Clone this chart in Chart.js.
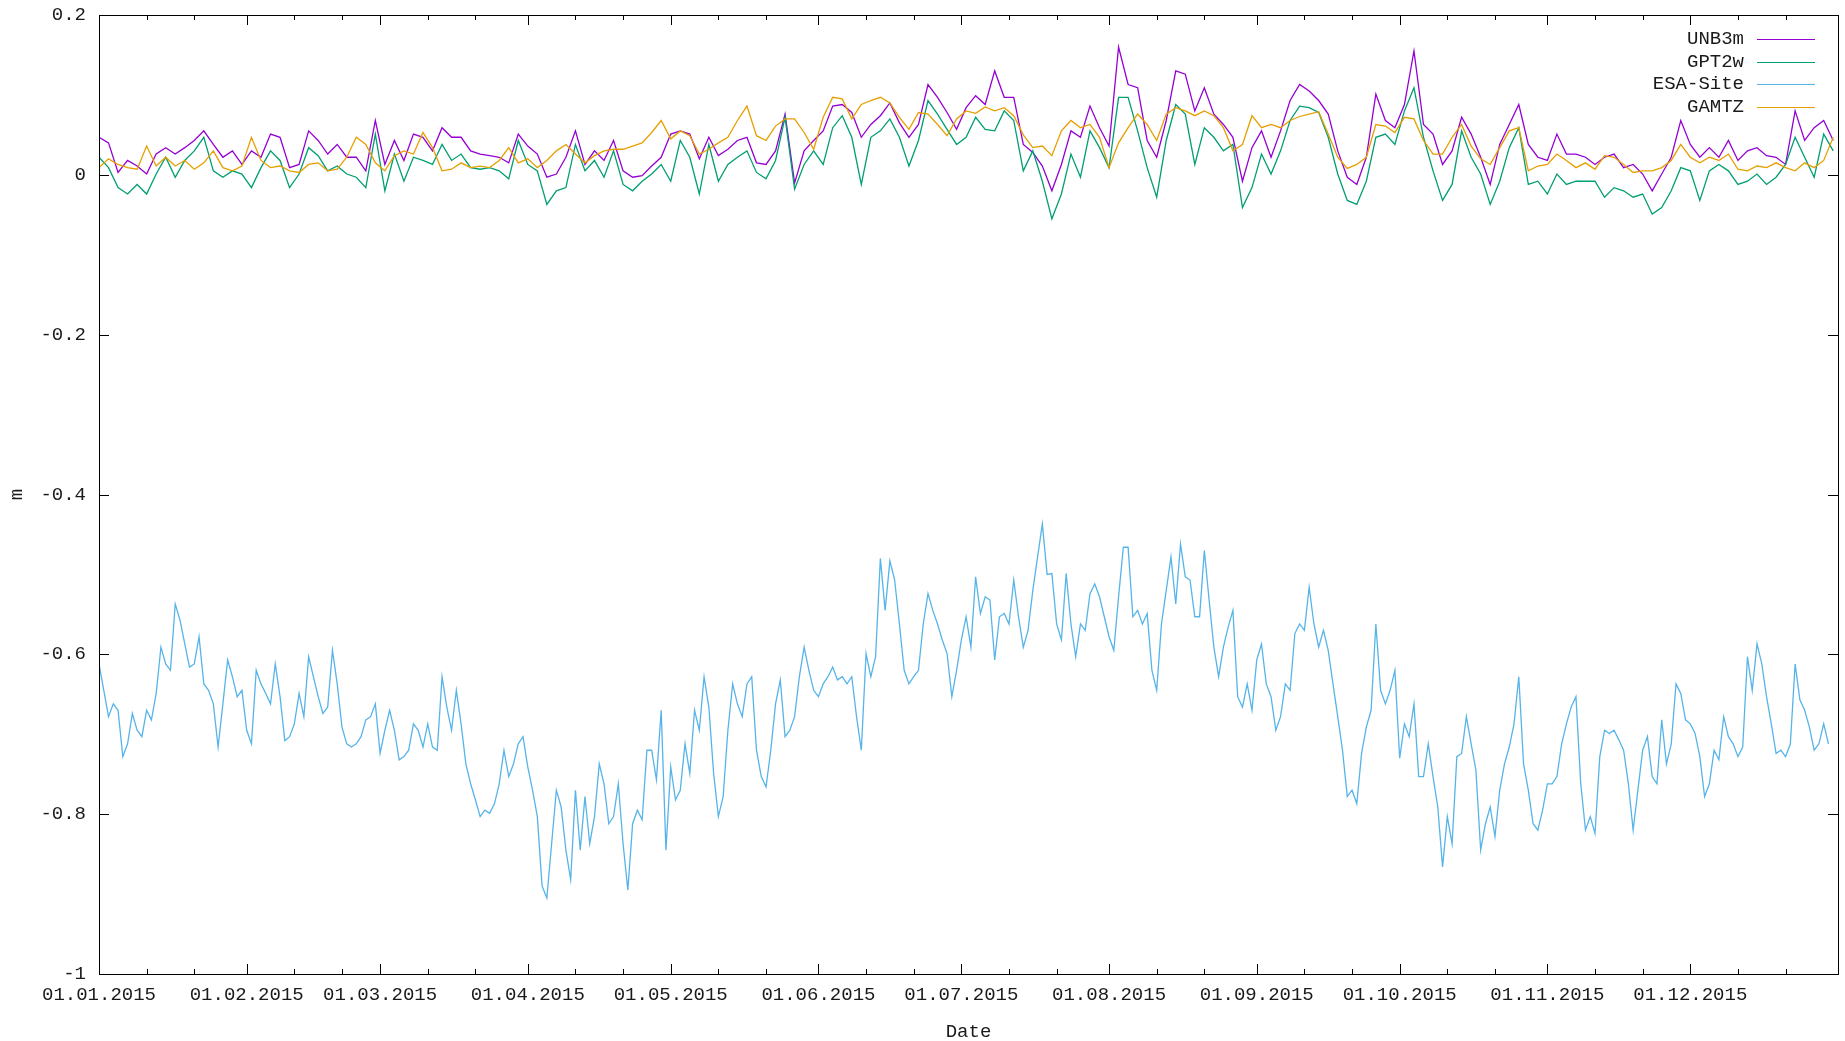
<!DOCTYPE html>
<html>
<head>
<meta charset="utf-8">
<title>UNB3m / GPT2w / ESA-Site / GAMTZ 2015</title>
<script src="https://cdn.jsdelivr.net/npm/chart.js@4.4.1/dist/chart.umd.min.js"></script>
<style>
  html, body { margin: 0; padding: 0; background: #fff; }
  #wrap { width: 1845px; height: 1041px; }
</style>
</head>
<body>
<div id="wrap"><canvas id="delayChart" width="1845" height="1041"></canvas></div>
<script>
// x axis: day of year 2015 (0 = 01.01.2015)
const monthStartDays = [0, 31, 59, 90, 120, 151, 181, 212, 243, 273, 304, 334];
const monthLabels = ['01.01.2015', '01.02.2015', '01.03.2015', '01.04.2015', '01.05.2015', '01.06.2015',
                     '01.07.2015', '01.08.2015', '01.09.2015', '01.10.2015', '01.11.2015', '01.12.2015'];
const yTickValues = [-1, -0.8, -0.6, -0.4, -0.2, 0, 0.2];

const seriesNames = ['UNB3m', 'GPT2w', 'ESA-Site', 'GAMTZ'];
const seriesColors = ['#9400d3', '#009e73', '#56b4e9', '#e69f00'];

// ESA-Site, one value per day
const esaSite = [
  -0.612,-0.645,-0.678,-0.662,-0.670,-0.728,-0.712,-0.674,-0.695,-0.703,
  -0.670,-0.682,-0.649,-0.591,-0.612,-0.620,-0.537,-0.557,-0.587,-0.616,
  -0.612,-0.578,-0.637,-0.645,-0.662,-0.716,-0.662,-0.607,-0.628,-0.653,
  -0.645,-0.695,-0.712,-0.620,-0.637,-0.649,-0.662,-0.612,-0.653,-0.708,
  -0.703,-0.687,-0.649,-0.678,-0.603,-0.628,-0.653,-0.674,-0.666,-0.595,
  -0.637,-0.691,-0.712,-0.716,-0.712,-0.703,-0.682,-0.678,-0.662,-0.724,
  -0.695,-0.670,-0.695,-0.732,-0.728,-0.720,-0.687,-0.695,-0.716,-0.687,
  -0.716,-0.720,-0.628,-0.666,-0.695,-0.645,-0.687,-0.737,-0.762,-0.782,
  -0.803,-0.795,-0.799,-0.787,-0.762,-0.720,-0.753,-0.737,-0.712,-0.703,
  -0.741,-0.770,-0.803,-0.890,-0.905,-0.837,-0.770,-0.791,-0.845,-0.882,
  -0.770,-0.845,-0.778,-0.837,-0.803,-0.737,-0.762,-0.812,-0.803,-0.762,
  -0.837,-0.895,-0.812,-0.795,-0.807,-0.720,-0.720,-0.757,-0.670,-0.845,
  -0.741,-0.782,-0.770,-0.712,-0.749,-0.670,-0.695,-0.628,-0.666,-0.749,
  -0.803,-0.778,-0.695,-0.637,-0.662,-0.678,-0.637,-0.628,-0.720,-0.753,
  -0.766,-0.720,-0.662,-0.632,-0.703,-0.695,-0.678,-0.628,-0.591,-0.620,
  -0.645,-0.653,-0.637,-0.628,-0.616,-0.632,-0.628,-0.637,-0.628,-0.678,
  -0.720,-0.599,-0.628,-0.603,-0.480,-0.545,-0.483,-0.507,-0.562,-0.620,
  -0.637,-0.628,-0.620,-0.562,-0.524,-0.545,-0.562,-0.582,-0.599,-0.653,
  -0.620,-0.582,-0.553,-0.591,-0.503,-0.549,-0.528,-0.532,-0.607,-0.553,
  -0.549,-0.562,-0.507,-0.553,-0.591,-0.570,-0.520,-0.478,-0.437,-0.500,
  -0.499,-0.562,-0.582,-0.499,-0.562,-0.603,-0.562,-0.570,-0.524,-0.512,
  -0.528,-0.553,-0.578,-0.595,-0.528,-0.466,-0.466,-0.553,-0.545,-0.562,
  -0.549,-0.620,-0.645,-0.562,-0.520,-0.478,-0.537,-0.462,-0.503,-0.507,
  -0.553,-0.553,-0.470,-0.532,-0.591,-0.628,-0.591,-0.566,-0.545,-0.653,
  -0.666,-0.637,-0.670,-0.607,-0.587,-0.637,-0.653,-0.695,-0.678,-0.637,
  -0.645,-0.574,-0.562,-0.570,-0.516,-0.562,-0.591,-0.570,-0.595,-0.637,
  -0.678,-0.720,-0.778,-0.770,-0.787,-0.724,-0.691,-0.670,-0.562,-0.645,
  -0.662,-0.645,-0.620,-0.730,-0.687,-0.703,-0.662,-0.753,-0.753,-0.712,
  -0.753,-0.791,-0.866,-0.803,-0.837,-0.728,-0.724,-0.678,-0.712,-0.745,
  -0.845,-0.812,-0.791,-0.828,-0.770,-0.737,-0.716,-0.687,-0.628,-0.737,
  -0.770,-0.812,-0.820,-0.795,-0.762,-0.762,-0.753,-0.712,-0.687,-0.666,
  -0.653,-0.762,-0.820,-0.803,-0.824,-0.728,-0.695,-0.699,-0.695,-0.707,
  -0.720,-0.762,-0.820,-0.770,-0.720,-0.703,-0.753,-0.762,-0.682,-0.737,
  -0.712,-0.637,-0.649,-0.682,-0.687,-0.699,-0.728,-0.778,-0.762,-0.720,
  -0.732,-0.678,-0.703,-0.712,-0.728,-0.716,-0.603,-0.645,-0.587,-0.612,
  -0.653,-0.687,-0.724,-0.720,-0.728,-0.712,-0.612,-0.657,-0.670,-0.691,
  -0.720,-0.712,-0.687,-0.712
];

// the three models, one value every 2 days
const unb3m = [
  0.047,0.040,0.003,0.018,0.011,0.001,0.026,0.034,0.026,0.034,
  0.043,0.055,0.038,0.022,0.030,0.013,0.030,0.022,0.051,0.047,
  0.009,0.013,0.055,0.043,0.026,0.038,0.022,0.022,0.005,0.068,
  0.013,0.043,0.018,0.051,0.047,0.030,0.059,0.047,0.047,0.030,
  0.026,0.024,0.022,0.015,0.051,0.036,0.026,-0.003,0.001,0.022,
  0.055,0.013,0.030,0.018,0.043,
  0.005,-0.003,-0.001,0.011,0.022,0.051,0.055,0.051,0.020,0.047,
  0.024,0.032,0.043,0.047,0.015,0.013,0.030,0.076,-0.010,0.030,
  0.043,0.055,0.086,0.088,0.078,0.047,0.063,0.074,0.090,0.065,
  0.047,0.063,0.113,0.097,0.078,0.057,0.084,0.099,0.088,0.130,
  0.097,0.097,0.038,0.028,0.011,-0.020,0.013,0.055,0.047,0.086,
  0.059,0.036,0.160,0.113,0.109,
  0.043,0.022,0.068,0.130,0.126,0.080,0.109,0.076,0.063,0.047,
  -0.008,0.034,0.055,0.022,0.055,0.093,0.113,0.105,0.093,0.076,
  0.030,-0.003,-0.012,0.022,0.101,0.068,0.059,0.088,0.155,0.063,
  0.051,0.013,0.030,0.072,0.051,0.022,-0.012,0.038,0.063,0.088,
  0.038,0.022,0.018,0.051,0.026,0.026,0.022,0.013,0.022,0.026,
  0.009,0.013,0.001,-0.020,0.001,0.022,0.068,0.038,0.022,0.034,
  0.022,0.043,0.018,0.030,0.034,0.024,0.022,0.013,0.080,0.043,
  0.059,0.068,0.043
];
const gpt2w = [
  0.022,0.009,-0.016,-0.024,-0.012,-0.024,0.001,0.022,-0.003,0.018,
  0.030,0.047,0.005,-0.003,0.005,0.001,-0.016,0.009,0.030,0.018,
  -0.016,0.001,0.034,0.024,0.005,0.011,0.001,-0.003,-0.016,0.051,
  -0.020,0.026,-0.008,0.022,0.018,0.013,0.038,0.018,0.026,0.009,
  0.007,0.009,0.005,-0.005,0.043,0.013,0.005,-0.037,-0.020,-0.016,
  0.038,0.005,0.018,-0.003,0.030,
  -0.012,-0.020,-0.008,0.001,0.013,-0.008,0.043,0.022,-0.024,0.038,
  -0.008,0.013,0.022,0.030,0.003,-0.005,0.018,0.072,-0.018,0.013,
  0.030,0.013,0.059,0.074,0.047,-0.012,0.047,0.055,0.070,0.047,
  0.011,0.043,0.093,0.076,0.057,0.038,0.047,0.072,0.057,0.055,
  0.080,0.068,0.005,0.030,-0.008,-0.055,-0.024,0.026,-0.003,0.055,
  0.034,0.009,0.097,0.097,0.055,
  0.009,-0.028,0.043,0.088,0.076,0.013,0.059,0.047,0.030,0.038,
  -0.041,-0.016,0.026,0.001,0.030,0.068,0.086,0.084,0.078,0.047,
  0.001,-0.032,-0.037,-0.008,0.047,0.051,0.038,0.080,0.109,0.047,
  0.005,-0.032,-0.012,0.055,0.022,0.001,-0.037,-0.008,0.034,0.059,
  -0.012,-0.008,-0.024,0.001,-0.012,-0.008,-0.008,-0.008,-0.028,-0.016,
  -0.020,-0.028,-0.024,-0.049,-0.041,-0.020,0.009,0.005,-0.032,0.005,
  0.013,0.005,-0.012,-0.008,0.001,-0.012,-0.003,0.013,0.047,0.022,
  -0.003,0.051,0.030
];
const gamtz = [
  0.009,0.020,0.013,0.009,0.007,0.036,0.011,0.022,0.011,0.018,
  0.007,0.015,0.030,0.009,0.005,0.011,0.047,0.018,0.009,0.011,
  0.005,0.003,0.013,0.015,0.005,0.007,0.022,0.047,0.038,0.015,
  0.005,0.024,0.030,0.026,0.053,0.034,0.005,0.007,0.015,0.009,
  0.011,0.009,0.018,0.034,0.015,0.020,0.009,0.018,0.030,0.038,
  0.026,0.015,0.024,0.030,0.032,
  0.032,0.036,0.040,0.053,0.068,0.045,0.055,0.049,0.026,0.032,
  0.040,0.047,0.068,0.086,0.049,0.043,0.061,0.070,0.070,0.053,
  0.032,0.072,0.097,0.095,0.070,0.088,0.093,0.097,0.090,0.072,
  0.057,0.078,0.076,0.063,0.049,0.070,0.080,0.077,0.085,0.080,
  0.084,0.074,0.050,0.034,0.036,0.024,0.055,0.068,0.059,0.063,
  0.047,0.009,0.040,0.059,0.076,
  0.063,0.043,0.076,0.084,0.080,0.074,0.080,0.074,0.059,0.030,
  0.038,0.074,0.059,0.063,0.059,0.068,0.073,0.076,0.079,0.051,
  0.022,0.008,0.013,0.022,0.063,0.061,0.053,0.072,0.070,0.043,
  0.026,0.026,0.047,0.063,0.036,0.020,0.013,0.034,0.055,0.059,
  0.005,0.011,0.013,0.026,0.018,0.009,0.015,0.007,0.024,0.022,
  0.013,0.003,0.005,0.005,0.009,0.018,0.038,0.022,0.015,0.022,
  0.018,0.026,0.007,0.005,0.011,0.009,0.015,0.009,0.005,0.015,
  0.009,0.018,0.047
];

const FONT = '"Liberation Mono", "DejaVu Sans Mono", monospace';
const TEXT = '#1a1a1a';

function toPoints(values, step) {
    return values.map((v, i) => ({ x: i * step, y: v }));
}

// minor x ticks on the 11th and 21st of every month
const minorDays = [];
monthStartDays.forEach(d => { minorDays.push(d + 10, d + 20); });

// gnuplot style frame: border, inward ticks on all four sides, key in top right
const gnuplotFrame = {
    id: 'gnuplotFrame',
    afterDraw(chart) {
        const ctx = chart.ctx;
        const a = chart.chartArea;
        const xs = chart.scales.x;
        const ys = chart.scales.y;
        ctx.save();
        ctx.strokeStyle = '#000';
        ctx.lineWidth = 1;
        ctx.beginPath();
        monthStartDays.forEach(d => {
            const px = Math.round(xs.getPixelForValue(d)) + 0.5;
            ctx.moveTo(px, a.bottom); ctx.lineTo(px, a.bottom - 10);
            ctx.moveTo(px, a.top); ctx.lineTo(px, a.top + 10);
        });
        minorDays.forEach(d => {
            const px = Math.round(xs.getPixelForValue(d)) + 0.5;
            ctx.moveTo(px, a.bottom); ctx.lineTo(px, a.bottom - 5);
            ctx.moveTo(px, a.top); ctx.lineTo(px, a.top + 5);
        });
        yTickValues.forEach(v => {
            const py = Math.round(ys.getPixelForValue(v)) + 0.5;
            ctx.moveTo(a.left, py); ctx.lineTo(a.left + 10, py);
            ctx.moveTo(a.right, py); ctx.lineTo(a.right - 10, py);
        });
        ctx.stroke();
        ctx.strokeRect(Math.round(a.left) + 0.5, Math.round(a.top) + 0.5,
                       Math.round(a.right - a.left), Math.round(a.bottom - a.top));

        // key
        ctx.font = '19px ' + FONT;
        ctx.textAlign = 'right';
        ctx.textBaseline = 'middle';
        chart.data.datasets.forEach((ds, i) => {
            const y = 39 + i * 22.7;
            ctx.fillStyle = TEXT;
            ctx.fillText(ds.label, 1744, y);
            ctx.strokeStyle = ds.borderColor;
            ctx.beginPath();
            ctx.moveTo(1757, Math.round(y) + 0.5);
            ctx.lineTo(1815, Math.round(y) + 0.5);
            ctx.stroke();
        });
        ctx.restore();
    }
};

const ctx = document.getElementById('delayChart').getContext('2d');
const seriesData = [toPoints(unb3m, 2), toPoints(gpt2w, 2), toPoints(esaSite, 1), toPoints(gamtz, 2)];

new Chart(ctx, {
    type: 'line',
    data: {
        datasets: seriesNames.map((name, i) => ({
            label: name,
            data: seriesData[i],
            borderColor: seriesColors[i],
            backgroundColor: seriesColors[i],
            borderWidth: 1.3,
            pointRadius: 0,
            tension: 0,
            fill: false,
            order: seriesNames.length - i
        }))
    },
    options: {
        responsive: false,
        animation: false,
        devicePixelRatio: 1,
        layout: { padding: { top: 15, right: 7, bottom: 0, left: 0 } },
        plugins: {
            legend: { display: false },
            tooltip: { enabled: false }
        },
        scales: {
            x: {
                type: 'linear',
                min: 0,
                max: 365,
                grid: { display: false, drawTicks: false },
                border: { display: false },
                afterBuildTicks: scale => {
                    scale.ticks = monthStartDays.concat(minorDays).sort((p, q) => p - q).map(v => ({ value: v }));
                },
                afterFit: scale => { scale.height = 67; },
                ticks: {
                    autoSkip: false,
                    maxRotation: 0,
                    padding: 11,
                    color: TEXT,
                    font: { family: FONT, size: 19, lineHeight: 1 },
                    callback: value => {
                        const k = monthStartDays.indexOf(value);
                        return k >= 0 ? monthLabels[k] : '';
                    }
                },
                title: {
                    display: true,
                    text: 'Date',
                    color: TEXT,
                    padding: 0,
                    font: { family: FONT, size: 19, lineHeight: 1 }
                }
            },
            y: {
                min: -1,
                max: 0.2,
                grid: { display: false, drawTicks: false },
                border: { display: false },
                afterBuildTicks: scale => {
                    scale.ticks = yTickValues.map(v => ({ value: v }));
                },
                afterFit: scale => {
                    scale.width = 99;
                    // labels may overhang the plot box, as in gnuplot
                    scale.paddingTop = 0;
                    scale.paddingBottom = 0;
                },
                ticks: {
                    padding: 13,
                    color: TEXT,
                    font: { family: FONT, size: 19, lineHeight: 1 },
                    callback: value => String(value)
                },
                title: {
                    display: true,
                    text: 'm',
                    color: TEXT,
                    padding: { top: 7, bottom: 0 },
                    font: { family: FONT, size: 19, lineHeight: 1 }
                }
            }
        }
    },
    plugins: [gnuplotFrame]
});
</script>
</body>
</html>
